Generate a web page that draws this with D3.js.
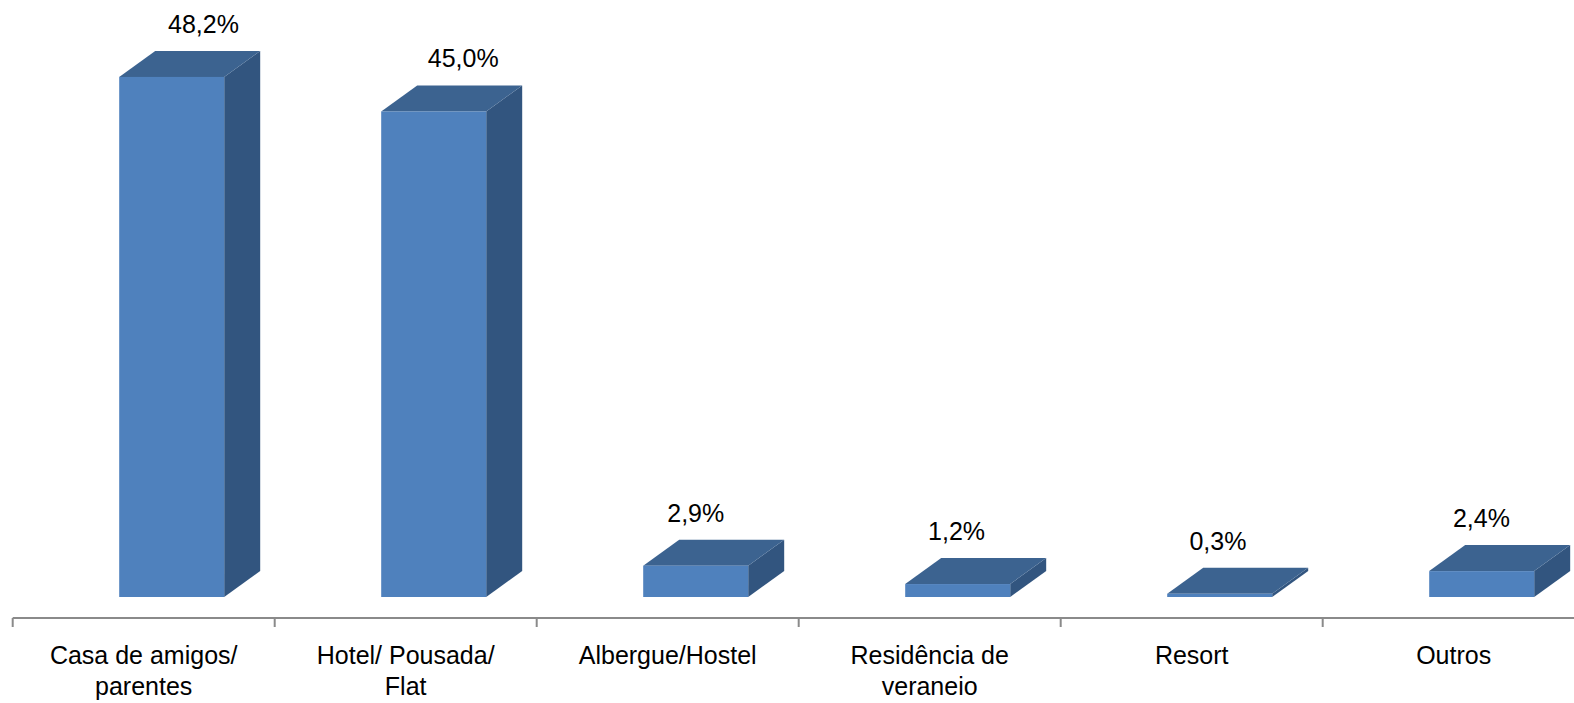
<!DOCTYPE html>
<html>
<head>
<meta charset="utf-8">
<script src="https://cdn.jsdelivr.net/npm/d3@7"></script>
<style>
  html, body { margin: 0; padding: 0; background: #fff; }
  svg { display: block; }
  text { font-family: "Liberation Sans", Arial, sans-serif; fill: #000; }
</style>
</head>
<body>
<svg id="chart" width="1574" height="703"></svg>
<script>
const categories = [
  "Casa de amigos/\nparentes",
  "Hotel/ Pousada/\nFlat",
  "Albergue/Hostel",
  "Residência de\nveraneio",
  "Resort",
  "Outros"
];
const values = [48.2, 45.0, 2.9, 1.2, 0.3, 2.4];
const valueLabels = ["48,2%", "45,0%", "2,9%", "1,2%", "0,3%", "2,4%"];

const W = 1574, H = 703;
const svg = d3.select("#chart");

const x = d3.scaleBand()
  .domain(categories)
  .range([12.7, 12.7 + 262 * categories.length])
  .paddingInner(0).paddingOuter(0);

const y = d3.scaleLinear()
  .domain([0, 50])
  .range([597, 597 - 50 * 10.79]);

const barOffset = 106.5, barW = 105;
const dx = 36, dy = -26;
const cFront = "#4F81BD", cTop = "#3C6390", cSide = "#32557F";

// axis line
const axisY = 618;
svg.append("line")
  .attr("x1", x.range()[0]).attr("x2", W)
  .attr("y1", axisY).attr("y2", axisY)
  .attr("stroke", "#8a8a8a").attr("stroke-width", 2);

// ticks at band boundaries
const tickXs = categories.map(c => x(c)).concat([x.range()[1]]);
svg.selectAll("line.tick").data(tickXs).enter().append("line")
  .attr("class", "tick")
  .attr("x1", d => d).attr("x2", d => d)
  .attr("y1", axisY).attr("y2", axisY + 9)
  .attr("stroke", "#8a8a8a").attr("stroke-width", 2);

const data = categories.map((c, i) => ({ c, v: values[i], label: valueLabels[i] }));

const g = svg.selectAll("g.bar").data(data).enter().append("g").attr("class", "bar");

g.each(function(d) {
  const sel = d3.select(this);
  const x0 = x(d.c) + barOffset, x1 = x0 + barW;
  const yb = y(0), yt = y(d.v);
  // side
  sel.append("path")
    .attr("d", `M${x1},${yt} L${x1 + dx},${yt + dy} L${x1 + dx},${yb + dy} L${x1},${yb} Z`)
    .attr("fill", cSide);
  // top
  sel.append("path")
    .attr("d", `M${x0},${yt} L${x0 + dx},${yt + dy} L${x1 + dx},${yt + dy} L${x1},${yt} Z`)
    .attr("fill", cTop);
  // front
  sel.append("rect")
    .attr("x", x0).attr("y", yt)
    .attr("width", barW).attr("height", Math.max(0, yb - yt))
    .attr("fill", cFront);
  // value label
  const h = yb - yt;
  sel.append("text")
    .attr("x", x(d.c) + 157 + 0.065 * h)
    .attr("y", yt - 44)
    .attr("text-anchor", "middle")
    .attr("font-size", 25)
    .text(d.label);
});

// category labels
svg.selectAll("text.cat").data(categories).enter().append("text")
  .attr("class", "cat")
  .attr("text-anchor", "middle")
  .attr("font-size", 25)
  .each(function(c) {
    const t = d3.select(this);
    c.split("\n").forEach((line, j) => {
      t.append("tspan")
        .attr("x", x(c) + x.bandwidth() / 2)
        .attr("y", 664 + j * 31)
        .text(line);
    });
  });
</script>
</body>
</html>
